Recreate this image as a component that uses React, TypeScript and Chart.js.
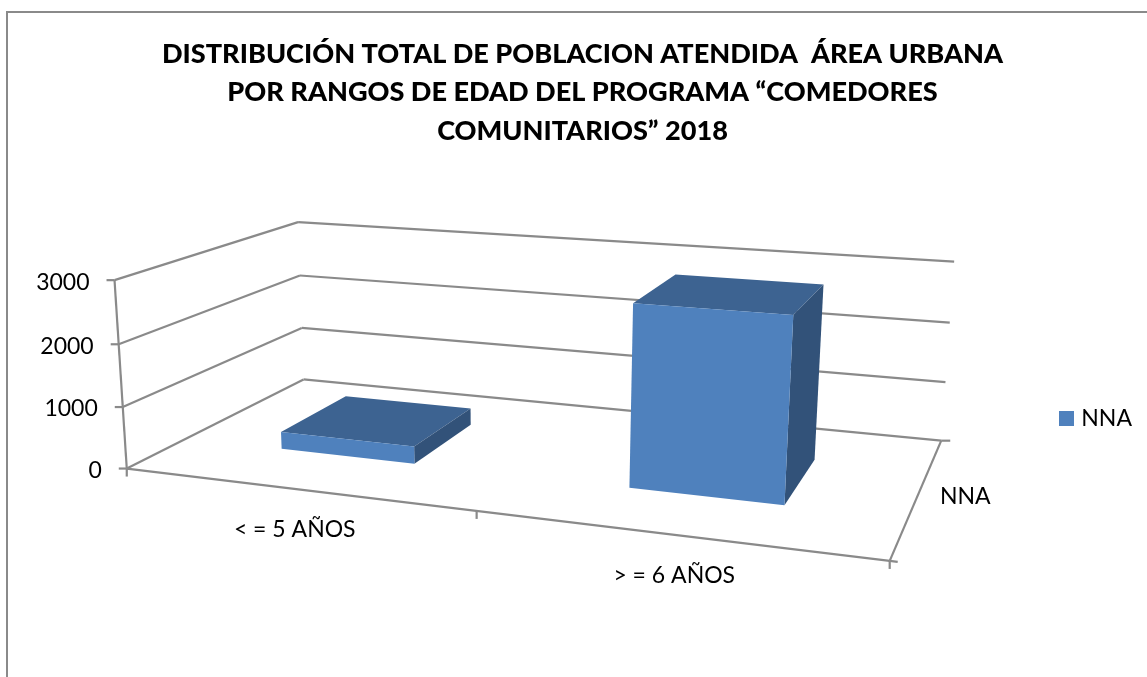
import React, { useEffect, useRef } from "react";
import { Chart, registerables } from "chart.js";

Chart.register(...registerables);

const titleLines = [
  "DISTRIBUCIÓN TOTAL DE POBLACION ATENDIDA  ÁREA URBANA",
  "POR RANGOS DE EDAD DEL PROGRAMA “COMEDORES",
  "COMUNITARIOS” 2018",
];
const categories = ["< = 5 AÑOS", "> = 6 AÑOS"];
const seriesName = "NNA";
const seriesValues = [285, 2840];
const axisMax = 3000;
const axisStep = 1000;

// Calibration of the 3D box: [u (along categories), v (depth), w (height), screen x, screen y]
const boxCalibration: number[][] = [
  [0, 0, 0, 128, 467],
  [0, 0, 1 / 3, 122, 406],
  [0, 0, 2 / 3, 118, 343],
  [0, 0, 1, 115, 280],
  [0, 1, 0, 303, 379],
  [0, 1, 1 / 3, 302, 328],
  [0, 1, 2 / 3, 300, 276],
  [0, 1, 1, 298, 223],
  [1, 1, 0, 941, 440],
  [1, 1, 1 / 3, 946, 382],
  [1, 1, 2 / 3, 950, 322],
  [1, 1, 1, 954, 262],
  [1, 0, 0, 889, 559],
  [0.5, 0, 0, 477, 517],
];

function fitCamera(points: number[][]): number[] {
  const n = 11;
  const A = Array.from({ length: n }, () => new Array(n + 1).fill(0));
  const add = (row: number[], rhs: number) => {
    for (let i = 0; i < n; i++) {
      for (let j = 0; j < n; j++) A[i][j] += row[i] * row[j];
      A[i][n] += row[i] * rhs;
    }
  };
  for (const [u, v, w, x, y] of points) {
    add([u, v, w, 1, 0, 0, 0, 0, -x * u, -x * v, -x * w], x);
    add([0, 0, 0, 0, u, v, w, 1, -y * u, -y * v, -y * w], y);
  }
  for (let c = 0; c < n; c++) {
    let p = c;
    for (let r = c + 1; r < n; r++) if (Math.abs(A[r][c]) > Math.abs(A[p][c])) p = r;
    [A[c], A[p]] = [A[p], A[c]];
    for (let r = 0; r < n; r++) {
      if (r === c) continue;
      const f = A[r][c] / A[c][c];
      for (let k = c; k <= n; k++) A[r][k] -= f * A[c][k];
    }
  }
  return A.map((row, i) => row[n] / row[i]);
}

const M = fitCamera(boxCalibration);
function project(u: number, v: number, w: number): [number, number] {
  const d = M[8] * u + M[9] * v + M[10] * w + 1;
  return [
    (M[0] * u + M[1] * v + M[2] * w + M[3]) / d,
    (M[4] * u + M[5] * v + M[6] * w + M[7]) / d,
  ];
}

const FONT = "Lato, 'Open Sans', sans-serif";
const BAR_FRONT = 0.3;
const BAR_BACK = 0.7;
const GRID = "#8A8A8A";
const FACE = "#4F81BD";
const TOP = "#3D6391";
const SIDE = "#325279";

function poly(ctx: CanvasRenderingContext2D, pts: [number, number][], fill: string) {
  ctx.beginPath();
  pts.forEach((p, i) => (i ? ctx.lineTo(p[0], p[1]) : ctx.moveTo(p[0], p[1])));
  ctx.closePath();
  ctx.fillStyle = fill;
  ctx.fill();
}
function seg(ctx: CanvasRenderingContext2D, a: [number, number], b: [number, number]) {
  ctx.beginPath();
  ctx.moveTo(a[0], a[1]);
  ctx.lineTo(b[0], b[1]);
  ctx.stroke();
}

const box3d = {
  id: "box3d",
  beforeDatasetsDraw(chart: any) {
    const ctx: CanvasRenderingContext2D = chart.ctx;
    const yScale = chart.scales.y;
    const xScale = chart.scales.x;
    const area = chart.chartArea;
    const toU = (px: number) => (px - area.left) / (area.right - area.left);
    ctx.save();
    // outer frame
    ctx.strokeStyle = GRID;
    ctx.lineWidth = 2;
    seg(ctx, [7, 677], [7, 12]);
    seg(ctx, [6, 12], [1147, 12]);

    // walls and gridlines
    ctx.lineWidth = 2.2;
    ctx.font = `23px ${FONT}`;
    ctx.fillStyle = "#000";
    ctx.textAlign = "right";
    ctx.textBaseline = "middle";
    for (const t of yScale.ticks) {
      const w = t.value / axisMax;
      const f = project(0, 0, w);
      const b = project(0, 1, w);
      const r = project(1, 1, w);
      seg(ctx, f, b);
      seg(ctx, b, r);
      seg(ctx, f, [f[0] - 8, f[1]]);
      ctx.fillStyle = "#000";
      ctx.fillText(String(t.value), f[0] - 25, f[1] + 2);
    }
    seg(ctx, project(0, 0, 0), project(0, 0, 1));
    // floor edges
    seg(ctx, project(0, 0, 0), project(1, 0, 0));
    seg(ctx, project(1, 0, 0), project(1, 1, 0));
    const br = project(1, 1, 0);
    seg(ctx, br, [br[0] + 9, br[1]]);
    const fr = project(1, 0, 0);
    seg(ctx, fr, [fr[0] + 8, fr[1] + 1]);
    // category ticks (boundaries of the categories)
    const n = categories.length;
    for (let i = 0; i <= n; i++) {
      const p = project(i / n, 0, 0);
      seg(ctx, p, [p[0], p[1] + 8]);
    }
    // category labels
    ctx.textAlign = "center";
    categories.forEach((c, i) => {
      const p = project(toU(xScale.getPixelForValue(i)), 0, 0);
      ctx.fillText(c, p[0], p[1] + 41);
    });
    // depth axis label
    const d = project(1, 0.5, 0);
    ctx.fillText(seriesName, d[0] + 47, d[1] + 2);
    ctx.restore();
  },
  beforeDatasetDraw(chart: any, args: any) {
    const ctx: CanvasRenderingContext2D = chart.ctx;
    const yScale = chart.scales.y;
    const area = chart.chartArea;
    const toU = (px: number) => (px - area.left) / (area.right - area.left);
    const meta = chart.getDatasetMeta(args.index);
    for (const el of meta.data) {
      const u0 = toU(el.x - el.width / 2);
      const u1 = toU(el.x + el.width / 2);
      const h = yScale.getValueForPixel(el.y) / axisMax;
      const v0 = BAR_FRONT;
      const v1 = BAR_BACK;
      poly(ctx, [project(u0, v0, h), project(u1, v0, h), project(u1, v1, h), project(u0, v1, h)], TOP);
      poly(ctx, [project(u1, v0, 0), project(u1, v1, 0), project(u1, v1, h), project(u1, v0, h)], SIDE);
      poly(ctx, [project(u0, v0, 0), project(u1, v0, 0), project(u1, v0, h), project(u0, v0, h)], FACE);
    }
    return false;
  },
};

function legendSwatch(): HTMLCanvasElement {
  const c = document.createElement("canvas");
  c.width = 15;
  c.height = 15;
  const g = c.getContext("2d")!;
  g.fillStyle = FACE;
  g.fillRect(0, 0, 15, 15);
  return c;
}

export default function App() {
  const ref = useRef<HTMLCanvasElement>(null);
  useEffect(() => {
    const chart = new Chart(ref.current!, {
      type: "bar",
      data: {
        labels: categories,
        datasets: [
          {
            label: seriesName,
            data: seriesValues,
            backgroundColor: FACE,
            barPercentage: 0.4,
            categoryPercentage: 1,
          },
        ],
      },
      options: {
        responsive: false,
        animation: false,
        layout: { padding: { left: 23, right: 5, top: 35, bottom: 0 } },
        scales: {
          x: { display: false },
          y: { display: false, min: 0, max: axisMax, ticks: { stepSize: axisStep } },
        },
        plugins: {
          tooltip: { enabled: false },
          title: {
            display: true,
            text: titleLines,
            color: "#000",
            font: { family: FONT, size: 27.1, weight: "900", lineHeight: 38.3 / 27.1 },
            padding: { top: 0, bottom: 11 },
          },
          legend: {
            display: true,
            position: "right",
            fullSize: false,
            labels: {
              color: "#000",
              font: { family: FONT, size: 23 },
              usePointStyle: true,
              pointStyle: legendSwatch(),
              pointStyleWidth: 6,
              boxHeight: 15,
            },
          },
        },
      },
      plugins: [box3d],
    } as any);
    return () => chart.destroy();
  }, []);
  return (
    <canvas
      ref={ref}
      width={1147}
      height={677}
      style={{ position: "absolute", left: 0, top: 0, display: "block" }}
    />
  );
}
